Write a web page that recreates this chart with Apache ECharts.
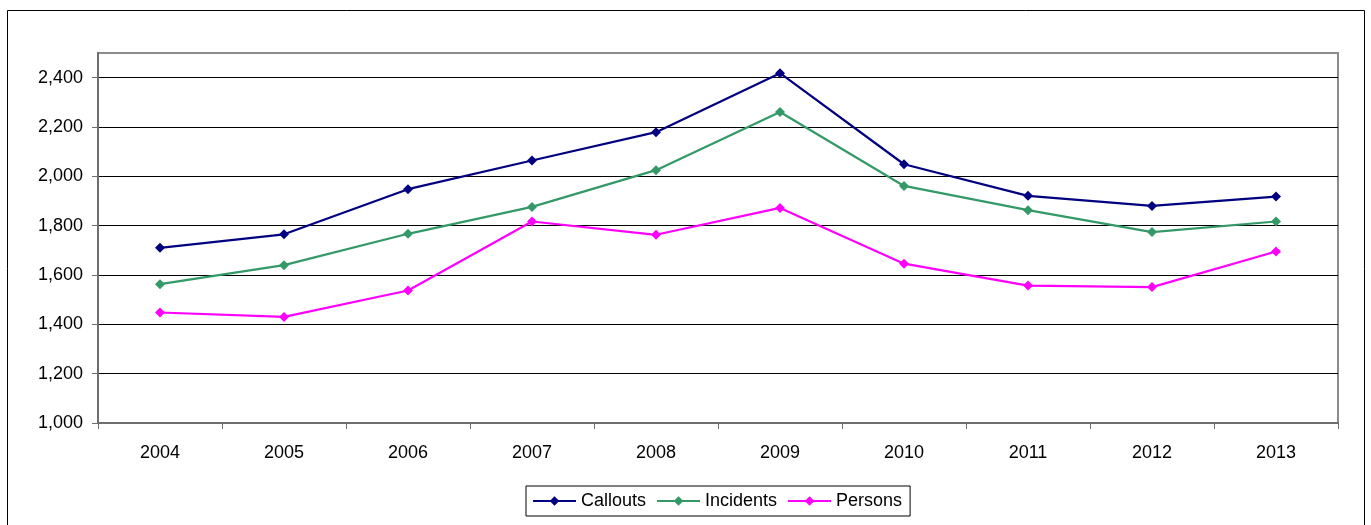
<!DOCTYPE html>
<html>
<head>
<meta charset="utf-8">
<title>Callouts, Incidents and Persons 2004–2013</title>
<script src="https://cdn.jsdelivr.net/npm/echarts@6/dist/echarts.min.js"></script>
<style>
  html, body { margin: 0; padding: 0; background: #fff; }
  #chart { width: 1371px; height: 525px; }
</style>
</head>
<body>
<div id="chart"></div>
<script>
// Yearly totals
const years = ['2004', '2005', '2006', '2007', '2008', '2009', '2010', '2011', '2012', '2013'];
const callouts  = [1710, 1765, 1948, 2064, 2179, 2418, 2049, 1921, 1880, 1918];
const incidents = [1563, 1640, 1767, 1876, 2025, 2261, 1961, 1863, 1774, 1817];
const persons   = [1448, 1430, 1537, 1817, 1763, 1872, 1646, 1557, 1551, 1695];

// Value axis ticks
const yTicks = [1000, 1200, 1400, 1600, 1800, 2000, 2200, 2400];

const FONT = '"Liberation Sans", Arial, sans-serif';

function lineSeries(name, data, color) {
  return {
    name: name,
    type: 'line',
    data: data,
    symbol: 'diamond',
    symbolSize: [10, 10],
    showSymbol: true,
    lineStyle: { color: color, width: 2.2 },
    itemStyle: { color: color },
    emphasis: { disabled: true },
    animation: false
  };
}

const chart = echarts.init(document.getElementById('chart'), null, { renderer: 'canvas' });

chart.setOption({
  backgroundColor: '#ffffff',
  animation: false,
  textStyle: { fontFamily: FONT },
  graphic: [{
    type: 'rect',
    shape: { x: 7.5, y: 10.5, width: 1357, height: 530 },
    style: { fill: 'none', stroke: '#000', lineWidth: 1 },
    silent: true,
    z: -10
  }],
  grid: {
    left: 98, right: 33, top: 53, bottom: 102,
    show: true,
    borderColor: '#8c8c8c',
    borderWidth: 2,
    backgroundColor: '#ffffff'
  },
  legend: {
    left: 526,
    top: 486,
    padding: [6, 8, 6, 6],
    itemGap: 10,
    itemWidth: 43,
    itemHeight: 12,
    borderColor: '#000',
    borderWidth: 1,
    textStyle: { fontFamily: FONT, fontSize: 18, color: '#000' },
    data: ['Callouts', 'Incidents', 'Persons']
  },
  xAxis: {
    type: 'category',
    data: years,
    boundaryGap: true,
    axisLine: { lineStyle: { color: '#6e6e6e', width: 2 } },
    axisTick: { show: true, inside: false, length: 6, lineStyle: { color: '#6e6e6e', width: 1 } },
    axisLabel: { fontFamily: FONT, fontSize: 18, color: '#000', margin: 21 },
    splitLine: { show: false }
  },
  yAxis: {
    type: 'value',
    min: 1000,
    max: 2500,
    interval: 200,
    axisLine: { show: true, lineStyle: { color: '#6e6e6e', width: 2 } },
    axisTick: { show: true, inside: false, length: 6, customValues: yTicks, lineStyle: { color: '#6e6e6e', width: 1 } },
    axisLabel: {
      fontFamily: FONT, fontSize: 18, color: '#000', margin: 15,
      customValues: yTicks,
      formatter: v => v.toLocaleString('en-US')
    },
    splitLine: { show: true, lineStyle: { color: '#000', width: 1 } }
  },
  series: [
    lineSeries('Callouts', callouts, '#000080'),
    lineSeries('Incidents', incidents, '#339966'),
    lineSeries('Persons', persons, '#ff00ff')
  ]
});
</script>
</body>
</html>
